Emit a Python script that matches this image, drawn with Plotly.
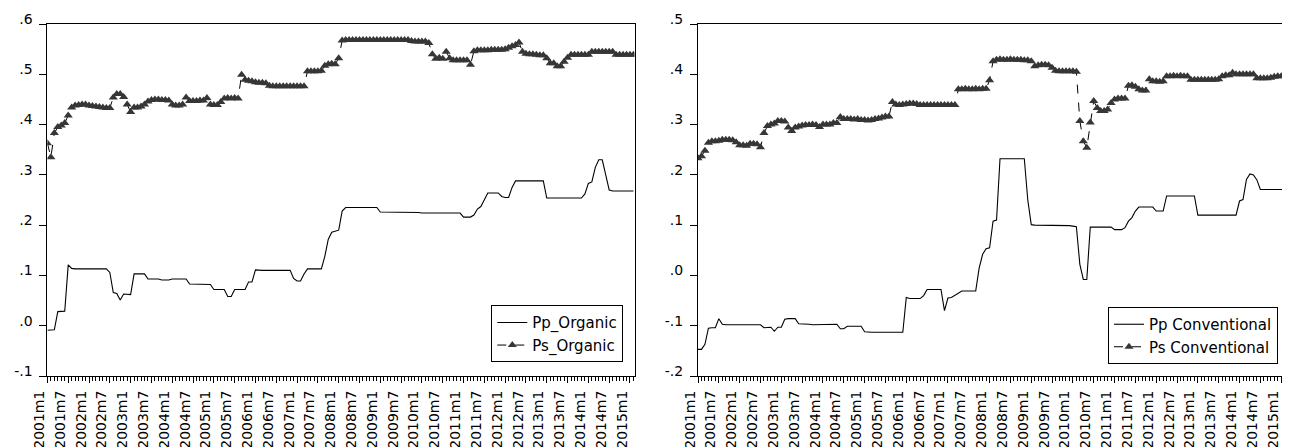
import plotly.graph_objects as go

pp_organic = [
    -0.009, -0.009, -0.008, 0.028, 0.029, 0.029, 0.121, 0.114, 0.113, 0.113, 0.113, 0.113,
    0.113, 0.113, 0.113, 0.113, 0.113, 0.113, 0.106, 0.066, 0.064, 0.051, 0.063, 0.062,
    0.062, 0.103, 0.103, 0.103, 0.103, 0.093, 0.093, 0.093, 0.093, 0.091, 0.091, 0.091,
    0.093, 0.093, 0.093, 0.093, 0.093, 0.083, 0.083, 0.083, 0.082, 0.082, 0.082, 0.082,
    0.072, 0.072, 0.072, 0.072, 0.058, 0.058, 0.072, 0.072, 0.072, 0.072, 0.087, 0.087,
    0.111, 0.110, 0.110, 0.110, 0.110, 0.110, 0.110, 0.110, 0.110, 0.110, 0.110, 0.094,
    0.089, 0.089, 0.103, 0.113, 0.113, 0.113, 0.113, 0.113, 0.138, 0.172, 0.186, 0.188,
    0.190, 0.228, 0.235, 0.235, 0.235, 0.235, 0.235, 0.235, 0.235, 0.235, 0.235, 0.235,
    0.226, 0.226, 0.226, 0.226, 0.226, 0.226, 0.226, 0.226, 0.226, 0.226, 0.225, 0.225,
    0.224, 0.224, 0.224, 0.224, 0.224, 0.224, 0.224, 0.224, 0.224, 0.224, 0.224, 0.224,
    0.216, 0.216, 0.216, 0.220, 0.232, 0.237, 0.252, 0.264, 0.264, 0.264, 0.264, 0.257,
    0.255, 0.255, 0.275, 0.288, 0.288, 0.288, 0.288, 0.288, 0.288, 0.288, 0.288, 0.288,
    0.254, 0.254, 0.254, 0.254, 0.254, 0.254, 0.254, 0.254, 0.254, 0.254, 0.254, 0.262,
    0.283, 0.286, 0.315, 0.330, 0.330, 0.300, 0.270, 0.268, 0.268, 0.268, 0.268, 0.268,
    0.268, 0.268,
]

ps_organic = [
    0.363, 0.335, 0.383, 0.395, 0.398, 0.403, 0.418, 0.434, 0.438, 0.439, 0.440, 0.440,
    0.438, 0.437, 0.436, 0.435, 0.434, 0.433, 0.433, 0.454, 0.461, 0.461, 0.455, 0.440,
    0.425, 0.434, 0.434, 0.436, 0.440, 0.446, 0.449, 0.450, 0.450, 0.449, 0.449, 0.448,
    0.440, 0.438, 0.438, 0.440, 0.454, 0.447, 0.447, 0.447, 0.448, 0.448, 0.453, 0.440,
    0.439, 0.439, 0.445, 0.452, 0.453, 0.452, 0.453, 0.452, 0.499, 0.489, 0.487, 0.486,
    0.484, 0.483, 0.483, 0.482, 0.477, 0.476, 0.476, 0.476, 0.476, 0.476, 0.476, 0.476,
    0.476, 0.476, 0.476, 0.506, 0.506, 0.506, 0.506, 0.507, 0.517, 0.520, 0.521, 0.520,
    0.532, 0.567, 0.568, 0.568, 0.568, 0.568, 0.568, 0.568, 0.568, 0.568, 0.568, 0.568,
    0.568, 0.568, 0.568, 0.568, 0.568, 0.568, 0.568, 0.568, 0.568, 0.566, 0.565, 0.565,
    0.565, 0.565, 0.562, 0.540, 0.531, 0.533, 0.531, 0.545, 0.532, 0.528, 0.528, 0.528,
    0.528, 0.528, 0.519, 0.546, 0.548, 0.548, 0.548, 0.548, 0.549, 0.549, 0.549, 0.549,
    0.550, 0.553, 0.556, 0.558, 0.563, 0.545, 0.541, 0.540, 0.540, 0.539, 0.538, 0.538,
    0.532, 0.522, 0.522, 0.516, 0.516, 0.525, 0.533, 0.539, 0.539, 0.539, 0.539, 0.539,
    0.539, 0.545, 0.545, 0.545, 0.545, 0.545, 0.545, 0.545, 0.539, 0.539, 0.539, 0.539,
    0.539, 0.539,
]

pp_conventional = [
    -0.147, -0.147, -0.137, -0.105, -0.104, -0.104, -0.086, -0.097, -0.098, -0.098, -0.098, -0.098,
    -0.098, -0.098, -0.098, -0.098, -0.098, -0.098, -0.098, -0.104, -0.103, -0.103, -0.111, -0.103,
    -0.103, -0.087, -0.086, -0.086, -0.086, -0.096, -0.096, -0.096, -0.097, -0.098, -0.098, -0.098,
    -0.098, -0.097, -0.097, -0.097, -0.097, -0.106, -0.106, -0.101, -0.101, -0.101, -0.101, -0.101,
    -0.112, -0.113, -0.113, -0.113, -0.113, -0.113, -0.113, -0.113, -0.113, -0.113, -0.113, -0.113,
    -0.044, -0.046, -0.046, -0.046, -0.046, -0.040, -0.028, -0.028, -0.028, -0.028, -0.028, -0.070,
    -0.045, -0.044, -0.040, -0.035, -0.031, -0.031, -0.031, -0.031, -0.031, 0.015, 0.042, 0.053,
    0.055, 0.108, 0.110, 0.232, 0.232, 0.232, 0.232, 0.232, 0.232, 0.232, 0.232, 0.150,
    0.101, 0.100, 0.100, 0.100, 0.100, 0.100, 0.100, 0.100, 0.100, 0.100, 0.099, 0.099,
    0.098, 0.097, 0.022, -0.008, -0.008, 0.096, 0.096, 0.096, 0.096, 0.096, 0.096, 0.096,
    0.091, 0.091, 0.091, 0.095, 0.108, 0.115, 0.128, 0.136, 0.136, 0.136, 0.136, 0.136,
    0.128, 0.128, 0.128, 0.158, 0.158, 0.158, 0.158, 0.158, 0.158, 0.158, 0.158, 0.158,
    0.120, 0.120, 0.120, 0.120, 0.120, 0.120, 0.120, 0.120, 0.120, 0.120, 0.120, 0.120,
    0.148, 0.151, 0.191, 0.202, 0.200, 0.190, 0.171, 0.171, 0.171, 0.171, 0.171, 0.171,
    0.171, 0.171,
]

ps_conventional = [
    0.233, 0.237, 0.248, 0.264, 0.267, 0.267, 0.268, 0.270, 0.270, 0.270, 0.269, 0.265,
    0.259, 0.259, 0.258, 0.262, 0.262, 0.261, 0.255, 0.283, 0.297, 0.300, 0.302, 0.307,
    0.307, 0.306, 0.294, 0.287, 0.294, 0.296, 0.298, 0.299, 0.299, 0.300, 0.299, 0.295,
    0.300, 0.300, 0.300, 0.303, 0.303, 0.315, 0.311, 0.311, 0.311, 0.310, 0.311, 0.309,
    0.309, 0.308, 0.309, 0.311, 0.312, 0.314, 0.316, 0.316, 0.345, 0.340, 0.339, 0.340,
    0.341, 0.342, 0.342, 0.341, 0.339, 0.339, 0.339, 0.339, 0.339, 0.339, 0.339, 0.339,
    0.339, 0.339, 0.339, 0.370, 0.370, 0.371, 0.370, 0.370, 0.371, 0.370, 0.371, 0.371,
    0.388, 0.426, 0.429, 0.430, 0.429, 0.429, 0.430, 0.429, 0.429, 0.429, 0.428, 0.428,
    0.426, 0.416, 0.418, 0.419, 0.419, 0.418, 0.413, 0.407, 0.406, 0.406, 0.406, 0.406,
    0.406, 0.405, 0.307, 0.267, 0.254, 0.304, 0.347, 0.333, 0.327, 0.327, 0.330, 0.343,
    0.350, 0.352, 0.352, 0.352, 0.377, 0.378, 0.375, 0.370, 0.368, 0.368, 0.390, 0.386,
    0.386, 0.385, 0.386, 0.396, 0.396, 0.397, 0.396, 0.397, 0.396, 0.396, 0.389, 0.389,
    0.389, 0.389, 0.389, 0.389, 0.389, 0.389, 0.390, 0.396, 0.398, 0.398, 0.403, 0.400,
    0.400, 0.400, 0.400, 0.400, 0.400, 0.392, 0.392, 0.392, 0.392, 0.393, 0.395, 0.396,
    0.396, 0.397,
]

years = list(range(2001, 2016))
tick_labels = []
for yr in years:
    tick_labels.append(f"{yr}m1")
    if yr < 2015:
        tick_labels.append(f"{yr}m7")
tick_positions = [6 * k for k in range(len(tick_labels))]

left_yticks = [-0.1, 0.0, 0.1, 0.2, 0.3, 0.4, 0.5, 0.6]
left_ylabels = ["-.1", ".0", ".1", ".2", ".3", ".4", ".5", ".6"]
right_yticks = [-0.2, -0.1, 0.0, 0.1, 0.2, 0.3, 0.4, 0.5]
right_ylabels = ["-.2", "-.1", ".0", ".1", ".2", ".3", ".4", ".5"]

x_idx = list(range(len(pp_organic)))

FONT = "DejaVu Sans, Arial, sans-serif"
MARK = "#363636"

fig = go.Figure()
fig.add_trace(go.Scatter(x=x_idx, y=pp_organic, mode="lines", name="Pp_Organic",
                         line=dict(color="black", width=1.1), xaxis="x", yaxis="y", legend="legend"))
fig.add_trace(go.Scatter(x=x_idx, y=ps_organic, mode="lines+markers", name="Ps_Organic",
                         line=dict(color="black", width=1, dash="dash"),
                         marker=dict(symbol="triangle-up", size=8, color=MARK),
                         xaxis="x", yaxis="y", legend="legend"))
fig.add_trace(go.Scatter(x=x_idx, y=pp_conventional, mode="lines", name="Pp Conventional",
                         line=dict(color="black", width=1.1), xaxis="x2", yaxis="y2", legend="legend2"))
fig.add_trace(go.Scatter(x=x_idx, y=ps_conventional, mode="lines+markers", name="Ps Conventional",
                         line=dict(color="black", width=1, dash="dash"),
                         marker=dict(symbol="triangle-up", size=8, color=MARK),
                         xaxis="x2", yaxis="y2", legend="legend2"))

W, H = 1290, 447
ydom = [1 - 368 / H, 1 - 16 / H]

def xaxis(domain, anchor):
    return dict(domain=domain, anchor=anchor, range=[0, 169.3], tickmode="array",
                tickvals=tick_positions, ticktext=tick_labels, tickangle=-90,
                ticks="outside", ticklen=6, tickcolor="black", showgrid=False,
                showline=True, linecolor="black", linewidth=1, mirror=True, zeroline=False,
                tickfont=dict(family=FONT, size=14, color="black"),
                ticklabelstandoff=2, ticklabelshift=-8,
                minor=dict(tickmode="linear", tick0=0, dtick=1, ticks="outside",
                           ticklen=4, tickcolor="black", showgrid=False),
                automargin=False)

def yaxis(ticks, labels, rng, anchor):
    return dict(domain=ydom, anchor=anchor, range=rng, tickmode="array", tickvals=ticks,
                ticktext=labels, ticks="outside", ticklen=7, tickcolor="black",
                showgrid=False, showline=True, linecolor="black", linewidth=1, mirror=True,
                zeroline=False, tickfont=dict(family=FONT, size=14, color="black"),
                ticklabelstandoff=4, ticklabelshift=-5,
                automargin=False)

legend_style = dict(bgcolor="white", bordercolor="black", borderwidth=1,
                    font=dict(family=FONT, size=15, color="black"),
                    xanchor="right", yanchor="bottom", tracegroupgap=0)

fig.update_layout(
    width=W, height=H,
    margin=dict(l=0, r=0, t=0, b=0),
    paper_bgcolor="white", plot_bgcolor="white",
    showlegend=True,
    xaxis=xaxis([39.4 / W, 626.5 / W], "y"),
    yaxis=yaxis(left_yticks, left_ylabels, [-0.1, 0.6], "x"),
    xaxis2=xaxis([690 / W, 1277.7 / W], "y2"),
    yaxis2=yaxis(right_yticks, right_ylabels, [-0.2, 0.5], "x2"),
    legend=dict(x=615.3 / W, y=1 - 354.3 / H, **legend_style),
    legend2=dict(x=1270 / W, y=1 - 356 / H, **legend_style),
)

fig.write_html("out.html")
